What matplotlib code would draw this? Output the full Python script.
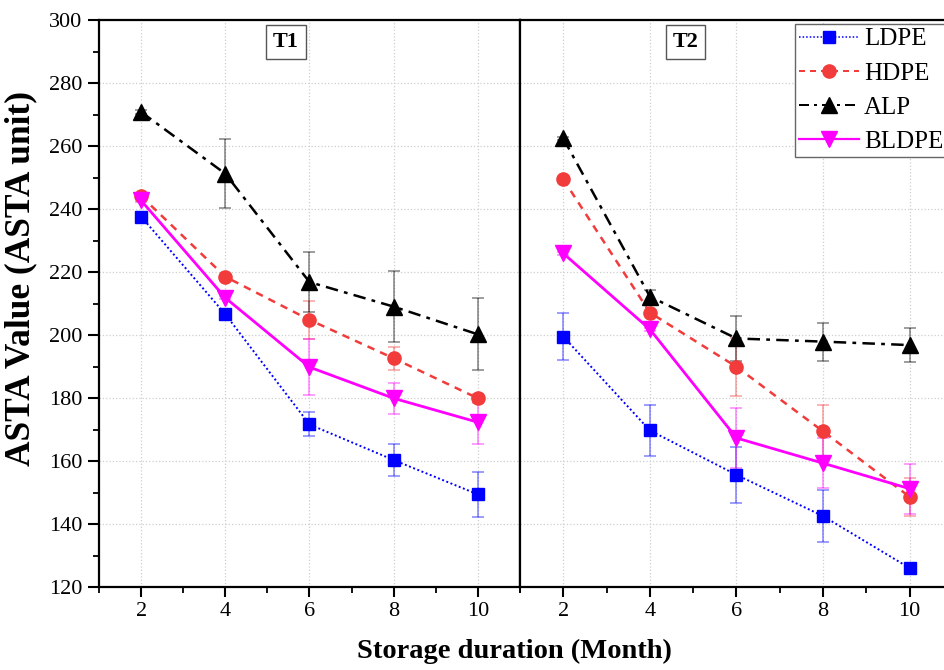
import matplotlib
matplotlib.use("Agg")
import matplotlib.pyplot as plt
from matplotlib.ticker import MultipleLocator
from matplotlib.lines import Line2D

plt.rcParams['font.family'] = ['Liberation Serif', 'DejaVu Serif']

# Storage months on the x axis
months = [2, 4, 6, 8, 10]
series = ["LDPE", "HDPE", "ALP", "BLDPE"]
panels = ["T1", "T2"]

# ASTA values (mean) and standard deviations, treatment T1
t1_ldpe = [237.6, 206.6, 171.6, 160.3, 149.4]
t1_ldpe_err = [0.5, 0.5, 3.8, 5.0, 7.2]
t1_hdpe = [244.1, 218.5, 204.8, 192.6, 179.9]
t1_hdpe_err = [0.5, 0.5, 6.0, 3.7, 1.5]
t1_alp = [270.8, 251.2, 216.8, 209.0, 200.2]
t1_alp_err = [0.5, 11.0, 9.6, 11.3, 11.4]
t1_bldpe = [242.7, 211.8, 189.8, 179.9, 172.3]
t1_bldpe_err = [0.5, 0.5, 8.8, 5.0, 7.0]

# ASTA values (mean) and standard deviations, treatment T2
t2_ldpe = [199.5, 169.7, 155.6, 142.5, 126.0]
t2_ldpe_err = [7.4, 8.0, 9.0, 8.2, 0.5]
t2_hdpe = [249.4, 207.1, 189.9, 169.4, 148.6]
t2_hdpe_err = [0.5, 0.5, 9.2, 8.5, 6.0]
t2_alp = [262.4, 212.2, 198.9, 197.9, 196.8]
t2_alp_err = [0.5, 2.0, 7.0, 6.0, 5.5]
t2_bldpe = [225.9, 201.8, 167.3, 159.3, 151.2]
t2_bldpe_err = [0.5, 0.5, 9.5, 8.0, 8.0]

data = {
    "T1": [(t1_ldpe, t1_ldpe_err), (t1_hdpe, t1_hdpe_err),
           (t1_alp, t1_alp_err), (t1_bldpe, t1_bldpe_err)],
    "T2": [(t2_ldpe, t2_ldpe_err), (t2_hdpe, t2_hdpe_err),
           (t2_alp, t2_alp_err), (t2_bldpe, t2_bldpe_err)],
}

styles = {
    "LDPE": dict(color="#0000FF", marker="s", linestyle=(0, (1, 1.3)), lw=1.4, ms=8.5),
    "HDPE": dict(color="#F23B3B", marker="o", linestyle=(0, (3, 2.5)), lw=1.8, ms=9.5),
    "ALP": dict(color="#000000", marker="^", linestyle=(0, (5, 2.5, 1.5, 2.5)), lw=1.8, ms=11.5),
    "BLDPE": dict(color="#FF00FF", marker="v", linestyle="-", lw=2.0, ms=11),
}

W, H = 945, 670
fig = plt.figure(figsize=(W / 100, H / 100), dpi=100)
ax1 = fig.add_axes([99 / W, 83 / H, 421 / W, 567 / H])
ax2 = fig.add_axes([520 / W, 83 / H, 433 / W, 567 / H])

label_pos = {"T1": 0.444, "T2": 0.382}

for ax, panel in zip([ax1, ax2], panels):
    for name, (vals, errs) in zip(series, data[panel]):
        st = styles[name]
        ax.errorbar(months, vals, yerr=errs, fmt="none", ecolor=st["color"],
                    alpha=0.45, elinewidth=1.2, capsize=4.5, capthick=1.2, zorder=2)
        ax.plot(months, vals, color=st["color"], marker=st["marker"],
                linestyle=st["linestyle"], linewidth=st["lw"], markersize=st["ms"],
                zorder=3)
    ax.set_xlim(1, 11)
    ax.set_ylim(120, 300)
    ax.xaxis.set_major_locator(MultipleLocator(2))
    ax.xaxis.set_minor_locator(MultipleLocator(1))
    ax.yaxis.set_major_locator(MultipleLocator(20))
    ax.yaxis.set_minor_locator(MultipleLocator(10))
    ax.grid(True, which="major", linestyle=":", color="#cfcfcf", linewidth=0.9, zorder=0)
    ax.set_axisbelow(True)
    for sp in ax.spines.values():
        sp.set_linewidth(1.6)
    ax.tick_params(axis="x", which="major", direction="out", length=7.5, width=1.5,
                   labelsize=16, pad=3, top=False)
    ax.tick_params(axis="x", which="minor", direction="out", length=4, width=1.3, top=False)
    ax.text(label_pos[panel], 0.961, panel, transform=ax.transAxes, ha="center",
            va="center", fontsize=16, fontweight="bold",
            bbox=dict(boxstyle="square,pad=0.3", fc="white", ec="#555555", lw=1.0))

ax1.tick_params(axis="y", which="major", direction="out", length=8, width=1.5,
                labelsize=16, pad=4, right=False)
ax1.tick_params(axis="y", which="minor", direction="out", length=4, width=1.3, right=False)
ax2.tick_params(axis="y", which="both", left=False, right=False, labelleft=False)

handles = [Line2D([], [], color=styles[n]["color"], marker=styles[n]["marker"],
                  linestyle=styles[n]["linestyle"], linewidth=styles[n]["lw"] * 0.8,
                  markersize=styles[n]["ms"]) for n in series]
ax2.legend(handles, series, loc="upper left", bbox_to_anchor=(795 / W, 1 - 24 / H),
           bbox_transform=fig.transFigure, fontsize=18, frameon=True, fancybox=False,
           edgecolor="#666666", framealpha=1, borderpad=0.15, labelspacing=0.47,
           handlelength=2.4, handletextpad=0.2, borderaxespad=0)

fig.text(21 / W, 1 - 279 / H, "ASTA Value (ASTA unit)", rotation=90, ha="center",
         va="center", fontsize=25.5, fontweight="bold")
fig.text(514 / W, 1 - 658 / H, "Storage duration (Month)", ha="center",
         va="baseline", fontsize=20.5, fontweight="bold")

fig.savefig("out.png", dpi=100)
